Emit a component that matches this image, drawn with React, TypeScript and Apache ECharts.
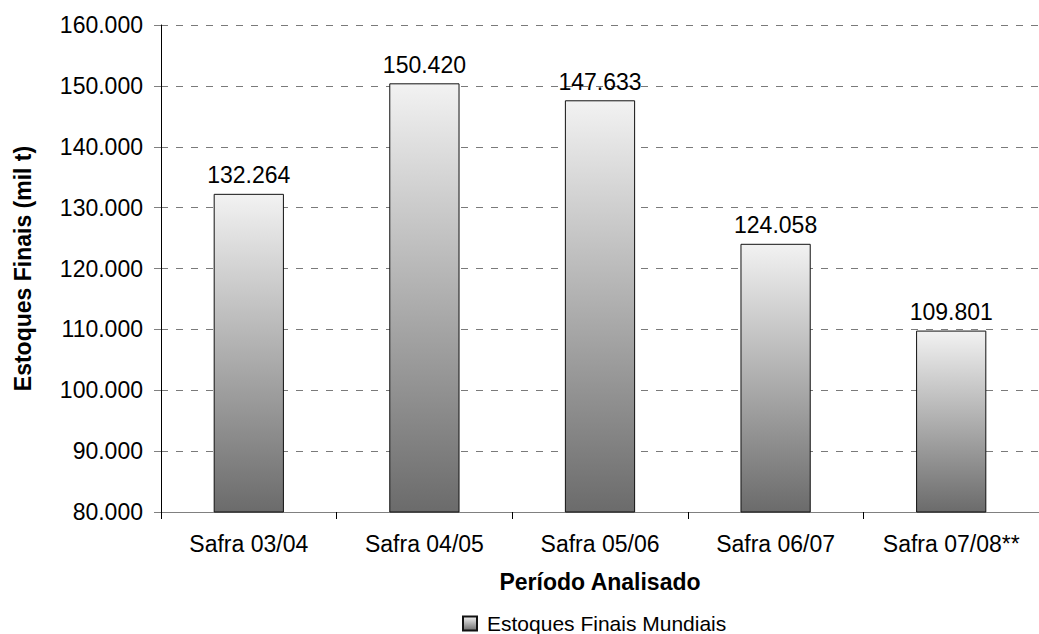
import React, { useEffect, useRef } from "react";
import * as echarts from "echarts";

const categories = ["Safra 03/04", "Safra 04/05", "Safra 05/06", "Safra 06/07", "Safra 07/08**"];
const stocks = [132264, 150420, 147633, 124058, 109801];
const seriesName = "Estoques Finais Mundiais";
const yAxisName = "Estoques Finais (mil t)";
const xAxisName = "Período Analisado";

const FONT = "'Liberation Sans', Arial, sans-serif";

function fmt(v: number): string {
  return String(Math.round(v)).replace(/\B(?=(\d{3})+(?!\d))/g, ".");
}

const barGradient = () =>
  new echarts.graphic.LinearGradient(0, 0, 0, 1, [
    { offset: 0, color: "#f2f2f2" },
    { offset: 1, color: "#6b6b6b" },
  ]);

export default function App() {
  const ref = useRef<HTMLDivElement>(null);
  useEffect(() => {
    if (!ref.current) return;
    const chart = echarts.init(ref.current, null, { renderer: "svg" });
    chart.setOption({
      animation: false,
      backgroundColor: "#ffffff",
      textStyle: { fontFamily: FONT },
      grid: { left: 161, top: 25, bottom: 122, right: -12, containLabel: false },
      legend: {
        data: [seriesName],
        top: 608,
        left: 457,
        itemWidth: 14,
        itemHeight: 14,
        icon: "rect",
        textStyle: { fontFamily: FONT, fontSize: 21, color: "#000", padding: [0, 0, 0, 5] },
      },
      xAxis: {
        type: "category",
        data: categories,
        name: xAxisName,
        nameLocation: "middle",
        nameGap: 58,
        nameTextStyle: { fontFamily: FONT, fontSize: 23, fontWeight: "bold", color: "#000" },
        axisLine: { show: true, lineStyle: { color: "#808080", width: 1 } },
        axisTick: { show: true, interval: 0, length: 7, alignWithLabel: false, lineStyle: { color: "#000" } },
        axisLabel: { interval: 0, hideOverlap: false, fontFamily: FONT, fontSize: 23, color: "#000", margin: 20 },
      },
      yAxis: {
        type: "value",
        min: 80000,
        max: 160000,
        interval: 10000,
        name: yAxisName,
        nameLocation: "middle",
        nameGap: 127,
        nameRotate: 90,
        nameTextStyle: { fontFamily: FONT, fontSize: 23, fontWeight: "bold", color: "#000" },
        axisLine: { show: true, lineStyle: { color: "#000", width: 1 } },
        axisTick: { show: true, length: 7, lineStyle: { color: "#808080" } },
        axisLabel: {
          fontFamily: FONT,
          fontSize: 23,
          color: "#000",
          margin: 18,
          formatter: (v: number) => fmt(v),
        },
        splitLine: { show: true, lineStyle: { color: "#7a7a7a", type: [7, 8], width: 1 } },
      },
      series: [
        {
          name: seriesName,
          type: "bar",
          data: stocks,
          barWidth: "40%",
          itemStyle: { color: barGradient(), borderColor: "#111", borderWidth: 1 },
          label: {
            show: true,
            position: "top",
            distance: 7,
            fontFamily: FONT,
            fontSize: 23,
            color: "#000",
            formatter: (p: any) => fmt(p.value),
          },
        },
      ],
    });
    return () => chart.dispose();
  }, []);
  return (
    <div
      ref={ref}
      style={{ position: "fixed", left: 0, top: 0, width: 1039, height: 634 }}
    />
  );
}
